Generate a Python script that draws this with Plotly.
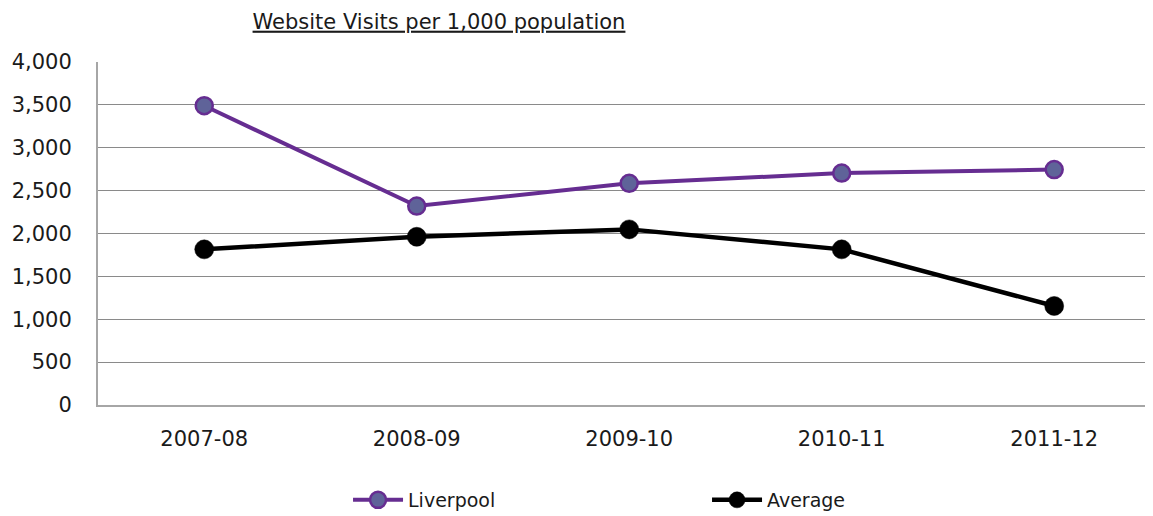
import plotly.graph_objects as go

categories = ["2007-08", "2008-09", "2009-10", "2010-11", "2011-12"]
liverpool = [3490, 2320, 2585, 2705, 2745]
average = [1815, 1962, 2048, 1815, 1155]
y_ticks = [0, 500, 1000, 1500, 2000, 2500, 3000, 3500, 4000]
y_tick_labels = ["0", "500", "1,000", "1,500", "2,000", "2,500", "3,000", "3,500", "4,000"]

font_family = "DejaVu Sans"
text_color = "#1a1a1a"

fig = go.Figure()
fig.add_trace(go.Scatter(
    x=categories, y=liverpool, name="Liverpool", mode="lines+markers",
    line=dict(color="#662D91", width=4),
    marker=dict(size=17, color="#5F6399", line=dict(color="#662D91", width=2.5)),
))
fig.add_trace(go.Scatter(
    x=categories, y=average, name="Average", mode="lines+markers",
    line=dict(color="#000000", width=4.5),
    marker=dict(size=19, color="#000000", line=dict(color="#000000", width=0.5)),
))

fig.update_layout(
    width=1145, height=516,
    margin=dict(l=90, r=0, t=54, b=119),
    paper_bgcolor="white", plot_bgcolor="white",
    font=dict(family=font_family, size=19, color=text_color),
    title=dict(text="<u>Website Visits per 1,000 population</u>",
               x=431 / 1145, xanchor="center", y=1, yanchor="top",
               pad=dict(t=6, b=0),
               font=dict(family=font_family, size=21, color=text_color)),
    showlegend=True,
    legend=dict(orientation="h", x=0.237, xanchor="left", y=-0.277, yanchor="middle",
                entrywidth=294, font=dict(size=19), itemwidth=50),
    xaxis=dict(type="category", range=[-0.5, 4.465], showgrid=False,
               showline=True, linecolor="#a6a6a6", linewidth=2, automargin=False,
               ticks="", ticklabelstandoff=14, tickfont=dict(size=21)),
    yaxis=dict(range=[0, 4000], tickvals=y_ticks, ticktext=y_tick_labels,
               showgrid=True, gridcolor="#8a8a8a", gridwidth=1, automargin=False,
               showline=True, linecolor="#a6a6a6", linewidth=2,
               ticks="", ticklabelstandoff=20, tickfont=dict(size=21), zeroline=False),
)

fig.write_html("out.html")
